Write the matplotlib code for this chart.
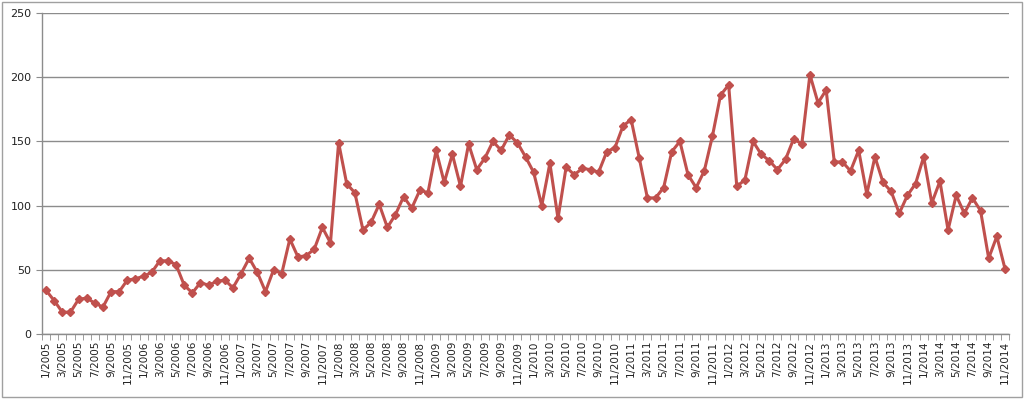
import numpy as np
import matplotlib
matplotlib.use('Agg')
import matplotlib.pyplot as plt
import matplotlib.patches as mpatches

# ── Data ───────────────────────────────────────────────────────────────────
years = list(range(2005, 2015))
v2005 = [34, 26, 17, 17, 27, 28, 24, 21, 33, 33, 42, 43]
v2006 = [45, 48, 57, 57, 54, 38, 32, 40, 38, 41, 42, 36]
v2007 = [47, 59, 48, 33, 50, 47, 74, 60, 61, 66, 83, 71]
v2008 = [149, 117, 110, 81, 87, 101, 83, 93, 107, 98, 112, 110]
v2009 = [143, 118, 140, 115, 148, 128, 137, 150, 143, 155, 149, 138]
v2010 = [126, 100, 133, 90, 130, 124, 129, 128, 126, 142, 145, 162]
v2011 = [167, 137, 106, 106, 114, 142, 150, 124, 114, 127, 154, 186]
v2012 = [194, 115, 120, 150, 140, 135, 128, 136, 152, 148, 202, 180]
v2013 = [190, 134, 134, 127, 143, 109, 138, 118, 111, 94, 108, 117]
v2014 = [138, 102, 119, 81, 108, 94, 106, 96, 59, 76, 51]

values = v2005 + v2006 + v2007 + v2008 + v2009 + v2010 + v2011 + v2012 + v2013 + v2014
months = [f'{m}/{y}' for y in years for m in range(1, 13)][:len(values)]

LINE = '#C0504D'
GRID = '#8C8C8C'

fig = plt.figure(figsize=(10.24, 3.99), dpi=100)
fig.patch.set_facecolor('white')
ax = fig.add_axes([42 / 1024, 1 - 334 / 399, 967 / 1024, 321 / 399])

x = np.arange(len(values))
ax.plot(x, values, color=LINE, lw=2.2, marker='D', markersize=4.5,
        markerfacecolor=LINE, markeredgecolor=LINE, zorder=3)

ax.set_xlim(-0.5, len(values) - 0.5)
ax.set_ylim(0, 250)
ax.set_yticks(range(0, 251, 50))
ax.grid(True, axis='y', color=GRID, lw=1)
ax.set_axisbelow(True)

ax.set_xticks(x[::2])
ax.set_xticklabels(months[::2], rotation=90, fontsize=7.5, color='#222222')
ax.set_xticks(np.arange(-0.5, len(values), 1), minor=True)
ax.tick_params(axis='x', which='major', length=0, pad=5)
ax.tick_params(axis='x', which='minor', length=4, color=GRID, direction='out')
ax.tick_params(axis='y', length=4, color=GRID, labelsize=8, labelcolor='#222222')

for s in ['top', 'right']:
    ax.spines[s].set_visible(False)
for s in ['left', 'bottom']:
    ax.spines[s].set_color(GRID)
    ax.spines[s].set_linewidth(1)

# chart border
fig.patches.append(mpatches.Rectangle((0.002, 0.004), 0.996, 0.992, transform=fig.transFigure,
                                      fill=False, edgecolor='#A0A0A0', lw=1))

fig.savefig('out.png', dpi=100, facecolor='white')
plt.close()
